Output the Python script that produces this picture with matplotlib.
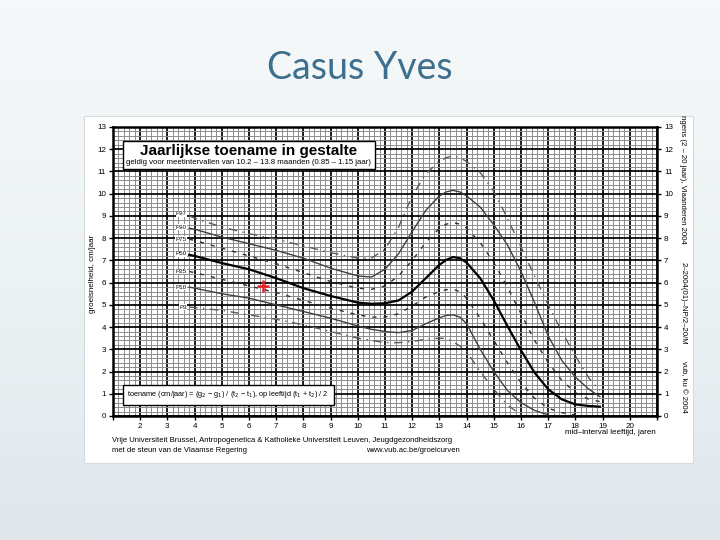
import numpy as np
import matplotlib
matplotlib.use("Agg")
import matplotlib.pyplot as plt
from matplotlib.patches import Rectangle
from matplotlib.ticker import MultipleLocator, FixedLocator

# leeftijd (mid-interval) en percentielen van jaarlijkse toename, cm/jaar
ages = [3.8, 4, 5, 6, 7, 8, 9, 10, 10.5, 11, 11.5, 12, 12.5, 13, 13.25, 13.5, 13.75,
        14, 14.5, 15, 15.5, 16, 16.5, 17, 17.5, 18, 18.5, 18.9]
nan = np.nan
p97 = [9.0, 8.9, 8.5, 8.2, 7.95, 7.65, 7.35, 7.1, 7.1, 7.5, 8.5, 9.9, 10.9, 11.45, 11.62, 11.7, 11.62,
       11.45, 10.95, 10.1, 8.9, 7.6, 6.3, 5.0, 3.8, 2.7, 1.7, 1.15]
p90 = [8.45, 8.4, 8.05, 7.75, 7.45, 7.1, 6.65, 6.3, 6.25, 6.6, 7.3, 8.3, 9.25, 9.9, 10.08, 10.15, 10.08,
       9.9, 9.4, 8.6, 7.7, 6.5, 5.1, 3.6, 2.5, 1.75, 1.2, 0.87]
p75 = [7.95, 7.9, 7.55, 7.2, 6.85, 6.45, 6.05, 5.75, 5.7, 5.85, 6.3, 7.0, 7.8, 8.45, 8.63, 8.7, 8.63,
       8.45, 7.8, 6.9, 5.8, 4.6, 3.4, 2.4, 1.6, 1.05, 0.75, 0.65]
p50 = [7.25, 7.2, 6.88, 6.6, 6.2, 5.75, 5.4, 5.1, 5.05, 5.07, 5.2, 5.6, 6.2, 6.8, 7.02, 7.15, 7.1,
       6.9, 6.2, 5.2, 4.05, 2.95, 1.95, 1.2, 0.75, 0.52, 0.45, 0.42]
p25 = [6.5, 6.45, 6.15, 5.85, 5.55, 5.2, 4.85, 4.55, 4.45, 4.45, 4.6, 4.95, 5.35, 5.6, 5.68, 5.7, 5.6,
       5.3, 4.4, 3.4, 2.4, 1.5, 0.8, 0.35, 0.15, 0.05, nan, nan]
p10 = [5.8, 5.75, 5.5, 5.3, 5.0, 4.7, 4.4, 4.05, 3.9, 3.8, 3.75, 3.85, 4.15, 4.42, 4.52, 4.55, 4.45,
       4.15, 3.0, 2.0, 1.15, 0.6, 0.25, 0.05, nan, nan, nan, nan]
p3 = [4.9, 4.88, 4.75, 4.55, 4.35, 4.1, 3.8, 3.5, 3.4, 3.3, 3.3, 3.35, 3.45, 3.5, 3.48, 3.35, 3.15,
      2.9, 2.0, 1.2, 0.5, 0.05, nan, nan, nan, nan, nan, nan]

pct_names = ["P97", "P90", "P75", "P50", "P25", "P10", "P3"]
pct_label_y = [9.1, 8.5, 7.95, 7.3, 6.5, 5.8, 4.9]

# meting Yves
yves_age = [6.5]
yves_val = [5.85]

xtick_labels = [str(i) for i in range(2, 21)]
ytick_vals = list(range(0, 14))

W, H = 720, 540
fig = plt.figure(figsize=(7.2, 5.4), dpi=100)

# achtergrond dia
bg = fig.add_axes([0, 0, 1, 1], zorder=-10)
grad = np.linspace(0, 1, 256).reshape(-1, 1)
cmap = matplotlib.colors.LinearSegmentedColormap.from_list("bg", ["#f6f9fa", "#edf2f4", "#e0e7eb"])
bg.imshow(grad, aspect="auto", cmap=cmap, extent=[0, 1, 0, 1])
bg.axis("off")

def fx(px):
    return px / W

def fy(py):
    return 1 - py / H

fig.text(0.5, fy(68), "Casus Yves", ha="center", va="center", fontsize=27,
         color="#3d6f8e", family="Lato")

block = Rectangle((fx(84), fy(463)), fx(693 - 84), (463 - 116) / H,
                  transform=fig.transFigure, facecolor="white", edgecolor="#d5dbdf",
                  lw=0.8, zorder=-5)
fig.patches.append(block)

font = "Liberation Sans"
ax = fig.add_axes([fx(113), fy(416), fx(657 - 113), (416 - 127) / H])
ax.set_xlim(1, 21)
ax.set_ylim(0, 13)

ax.xaxis.set_major_locator(FixedLocator(range(1, 22)))
ax.set_xticklabels([""] + xtick_labels + [""])
ax.yaxis.set_major_locator(FixedLocator(ytick_vals))
ax.set_yticklabels([str(v) for v in ytick_vals])
ax.xaxis.set_minor_locator(MultipleLocator(0.2))
ax.yaxis.set_minor_locator(MultipleLocator(0.2))
ax.grid(which="minor", color="#8c8c8c", lw=0.7)
ax.grid(which="major", color="black", lw=1.25)
ax.set_axisbelow(True)
ax.tick_params(which="major", direction="out", length=3, width=1, labelsize=5.8,
               pad=2, right=True, labelright=True, labelfontfamily=font)
ax.tick_params(which="minor", length=0)
for s in ax.spines.values():
    s.set_linewidth(1.8)

styles = {
    "P97": dict(color="#5a5a5a", lw=1.0, ls=(0, (6, 4, 1, 4))),
    "P90": dict(color="#404040", lw=1.0, ls="-"),
    "P75": dict(color="#303030", lw=1.0, ls=(0, (3, 5))),
    "P50": dict(color="black", lw=1.6, ls="-"),
    "P25": dict(color="#303030", lw=1.0, ls=(0, (3, 5))),
    "P10": dict(color="#404040", lw=1.0, ls="-"),
    "P3": dict(color="#5a5a5a", lw=1.0, ls=(0, (6, 4, 1, 4))),
}
series = [p97, p90, p75, p50, p25, p10, p3]
for name, vals in zip(pct_names, series):
    ax.plot(ages, vals, **styles[name], zorder=3)

for name, yv in zip(pct_names, pct_label_y):
    ax.text(3.72, yv, name, ha="right", va="center", fontsize=4.5, family=font,
            bbox=dict(facecolor="white", edgecolor="none", pad=0.3), zorder=4)

ax.plot(yves_age, yves_val, marker="+", color="#e3222b", ms=8, mew=1.8, ls="none", zorder=5)

# titelkader
tb = Rectangle((fx(123), fy(169)), fx(375 - 123), (169 - 141) / H, transform=fig.transFigure,
               facecolor="white", edgecolor="black", lw=1.0, zorder=6)
fig.patches.append(tb)
fig.text(fx(249), fy(150.5), "Jaarlijkse toename in gestalte", ha="center", va="center",
         fontsize=11, fontweight="bold", family=font, zorder=7)
fig.text(fx(249), fy(163), "geldig voor meetintervallen van 10.2 \u2013 13.8 maanden (0.85 \u2013 1.15 jaar)",
         ha="center", va="center", fontsize=5.6, family=font, zorder=7)

# formulekader
fb = Rectangle((fx(123), fy(405)), fx(334 - 123), (405 - 385) / H, transform=fig.transFigure,
               facecolor="white", edgecolor="black", lw=1.0, zorder=6)
fig.patches.append(fb)
fig.text(fx(127), fy(395), "toename (cm/jaar) = (g$_2$ \u2212 g$_1$) / (t$_2$ \u2212 t$_1$), op leeftijd (t$_1$ + t$_2$) / 2",
         ha="left", va="center", fontsize=5.3, family=font, zorder=7)

fig.text(fx(92), fy(274), "groeisnelheid, cm/jaar", rotation=90, ha="center", va="center",
         fontsize=5.8, family=font)
fig.text(fx(656), fy(433), "mid\u2013interval leeftijd, jaren", ha="right", va="center",
         fontsize=5.8, family=font)
fig.text(fx(112), fy(440), "Vrije Universiteit Brussel, Antropogenetica & Katholieke Universiteit Leuven, Jeugdgezondheidszorg",
         ha="left", va="center", fontsize=5.5, family=font)
fig.text(fx(112), fy(451), "met de steun van de Vlaamse Regering", ha="left", va="center",
         fontsize=5.5, family=font)
fig.text(fx(460), fy(451), "www.vub.ac.be/groeicurven", ha="right", va="center",
         fontsize=5.5, family=font)

side = [("jongens (2 \u2013 20 jaar), Vlaanderen 2004", 109),
        ("2\u20132004(01)\u2013NP/2\u201320/M", 262),
        ("vub, ku \u00a9 2004", 361)]
for txt, top in side:
    t = fig.text(fx(683), fy(top), txt, rotation=-90, rotation_mode="anchor",
                 ha="left", va="center", fontsize=5.6, family=font)
    t.set_clip_path(block)

fig.savefig("out.png", dpi=100)
